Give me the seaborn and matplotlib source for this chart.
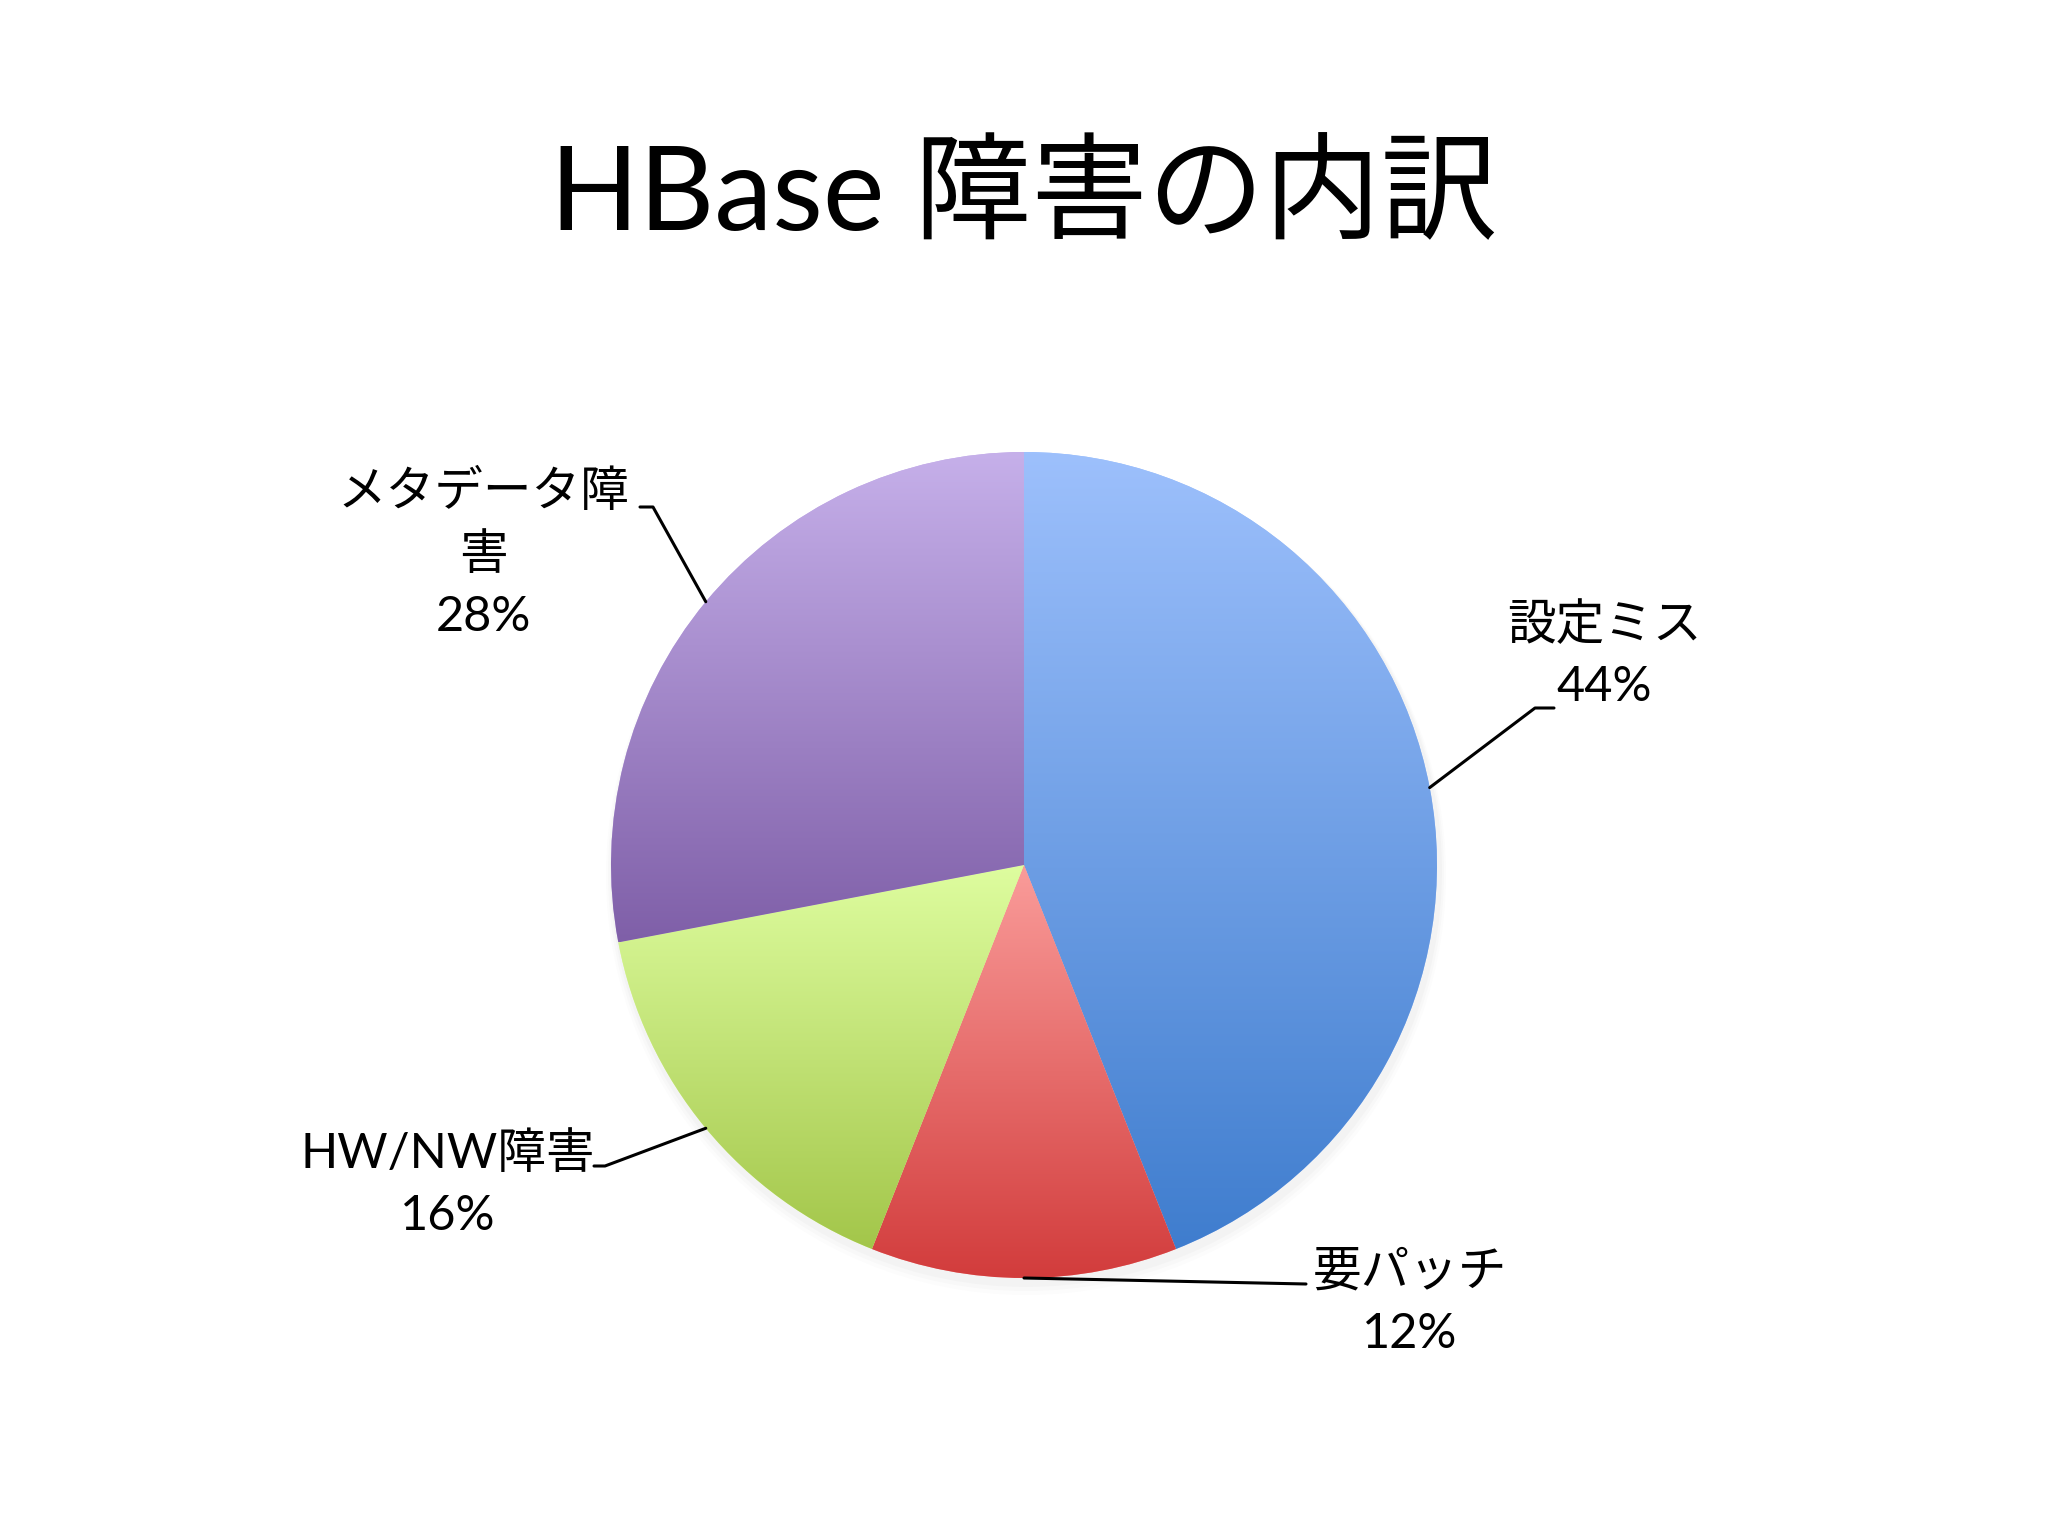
import numpy as np
import matplotlib
matplotlib.use("Agg")
import matplotlib.pyplot as plt
import matplotlib.colors as mcolors
import seaborn as sns

# data
labels = ["設定ミス", "要パッチ", "HW/NW障害", "メタデータ障\n害"]
shares = [44, 12, 16, 28]
top_colors = ["#9DC0FC", "#FA9C9A", "#DEFD9F", "#C6B0EA"]
bottom_colors = ["#3F7DCE", "#D23C3C", "#A3C64A", "#7F5FA8"]
title = "HBase 障害の内訳"

sns.set_theme(style="white")
plt.rcParams['font.family'] = ['Lato', 'Noto Sans CJK JP', 'DejaVu Sans']

W, H = 2048, 1536
fig = plt.figure(figsize=(20.48, 15.36), dpi=100)
ax = fig.add_axes([0, 0, 1, 1])

cx, cy, R = 1024, 671, 413

# faint shadow under the pie
for k, a in enumerate([0.035, 0.03, 0.025]):
    ax.add_patch(plt.Circle((cx + 2, cy - 6 - 2 * k), R + 3 + 2 * k,
                            color="#808080", alpha=a, lw=0, zorder=0))

wedges, _ = ax.pie(shares, colors=top_colors, startangle=90, counterclock=False,
                   center=(cx, cy), radius=R, wedgeprops=dict(linewidth=0))

# vertical gradient in each slice
for w, c0, c1 in zip(wedges, top_colors, bottom_colors):
    bb = w.get_path().get_extents()
    y0, y1 = bb.y0, bb.y1
    t = np.linspace(0, 1, 256)[:, None, None]
    a = np.array(mcolors.to_rgb(c0))[None, None, :]
    b = np.array(mcolors.to_rgb(c1))[None, None, :]
    grad = a + (b - a) * t
    im = ax.imshow(grad, extent=(bb.x0, bb.x1, y0, y1), origin="upper",
                   aspect="auto", zorder=2, interpolation="bilinear")
    im.set_clip_path(w)

# label positions, leader elbows
label_pos = [(1604, 881), (1410, 233), (448, 351), (483, 982)]
elbows = [[(1535, 828), (1554, 828)],
          [(1306, 252)],
          [(605, 370), (594, 370)],
          [(653, 1029), (640, 1029)]]

for w, lab, s, (lx, ly), el in zip(wedges, labels, shares, label_pos, elbows):
    ang = np.deg2rad((w.theta1 + w.theta2) / 2)
    px, py = cx + R * np.cos(ang), cy + R * np.sin(ang)
    xs = [px] + [p[0] for p in el]
    ys = [py] + [p[1] for p in el]
    ax.plot(xs, ys, color="black", lw=2.2, zorder=3)
    ax.text(lx, ly, f"{lab}\n{s}%", ha="center", va="center", fontsize=35,
            linespacing=1.5, color="black")

ax.text(W / 2, 1340, title, ha="center", va="center", fontsize=84, color="black")

ax.set_xlim(0, W)
ax.set_ylim(0, H)
ax.set_aspect("equal")
ax.axis("off")
fig.savefig("out.png", dpi=100, facecolor="white")
